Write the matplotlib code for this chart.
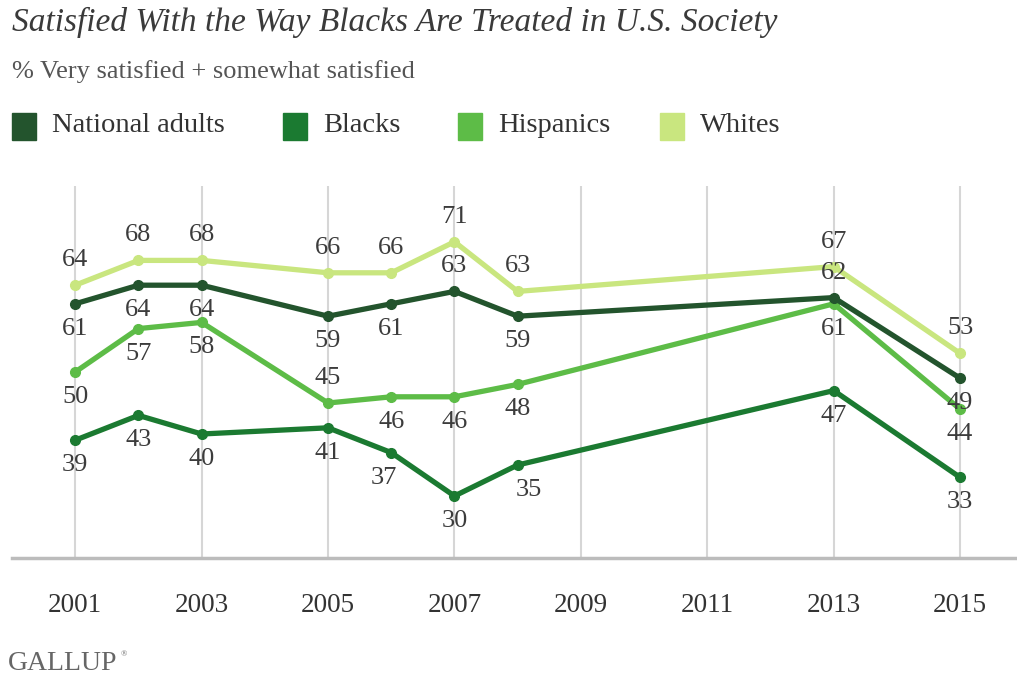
import matplotlib
matplotlib.use("Agg")
import matplotlib.pyplot as plt
from matplotlib.patches import Rectangle

years = [2001, 2002, 2003, 2005, 2006, 2007, 2008, 2013, 2015]
national = [61, 64, 64, 59, 61, 63, 59, 62, 49]
blacks = [39, 43, 40, 41, 37, 30, 35, 47, 33]
hispanics = [50, 57, 58, 45, 46, 46, 48, 61, 44]
whites = [64, 68, 68, 66, 66, 71, 63, 67, 53]

series_names = ["National adults", "Blacks", "Hispanics", "Whites"]
tick_years = [2001, 2003, 2005, 2007, 2009, 2011, 2013, 2015]

colors = ["#23542d", "#1b7a31", "#5dbc47", "#c9e67f"]
# label side per point: +1 above, -1 below
sides = {
    "National adults": [-1, -1, -1, -1, -1, 1, -1, 1, -1],
    "Blacks": [-1, -1, -1, -1, -1, -1, -1, -1, -1],
    "Hispanics": [-1, -1, -1, 1, -1, -1, -1, -1, -1],
    "Whites": [1, 1, 1, 1, 1, 1, 1, 1, 1],
}
label_dx = {"Blacks": [0, 0, 0, 0, -5, 0, 8, 0, 0]}

plt.rcParams['font.family'] = ['Liberation Serif', 'DejaVu Serif']

fig = plt.figure(figsize=(10.17, 6.82), dpi=100)
ax = fig.add_axes([12 / 1017, 124 / 682, 1005 / 1017, 372 / 682])

data = [national, blacks, hispanics, whites]
# draw whites first so darker lines sit on top
for i in [3, 2, 1, 0]:
    ax.plot(years, data[i], color=colors[i], lw=3.8, marker="o", ms=7,
            solid_capstyle="round", zorder=3 + (3 - i))

for name, vals in zip(series_names, data):
    dxs = label_dx.get(name, [0] * len(vals))
    for x, v, s, dx in zip(years, vals, sides[name], dxs):
        ax.annotate(str(v), (x, v), xytext=(dx, 18 * s), textcoords="offset points",
                    ha="center", va="center", fontsize=19, color="#3c3c3c", zorder=10)

ax.set_xlim(2000.0, 2015.9)
ax.set_ylim(20, 80)
ax.set_xticks(tick_years)
ax.set_xticklabels([str(y) for y in tick_years])
ax.tick_params(axis="x", length=0, pad=25, labelsize=19.5, labelcolor="#333333")
ax.set_yticks([])
for y in tick_years:
    ax.axvline(y, color="#d6d6d6", lw=1.5, zorder=1)
for side in ["top", "right", "left"]:
    ax.spines[side].set_visible(False)
ax.spines["bottom"].set_color("#bcbcbc")
ax.spines["bottom"].set_linewidth(2.5)

fig.text(12 / 1017, 1 - 22 / 682, "Satisfied With the Way Blacks Are Treated in U.S. Society",
         fontsize=24, style="italic", color="#3a3a3a", va="center", ha="left")
fig.text(12 / 1017, 1 - 72 / 682, "% Very satisfied + somewhat satisfied",
         fontsize=19, color="#555555", va="center", ha="left")

legend_x = [12, 283, 458, 660]
for x, name, c in zip(legend_x, series_names, colors):
    fig.patches.append(Rectangle((x / 1017, 1 - 140 / 682), 24 / 1017, 27 / 682,
                                 transform=fig.transFigure, color=c))
    fig.text((x + 40) / 1017, 1 - 126 / 682, name, fontsize=20.5, color="#333333",
             va="center", ha="left")

fig.text(8 / 1017, 1 - 663 / 682, "GALLUP", fontsize=20, color="#666666",
         va="center", ha="left")
fig.text(121 / 1017, 1 - 654 / 682, "\u00ae", fontsize=6, color="#666666",
         va="center", ha="left")

fig.savefig("out.png", dpi=100)
